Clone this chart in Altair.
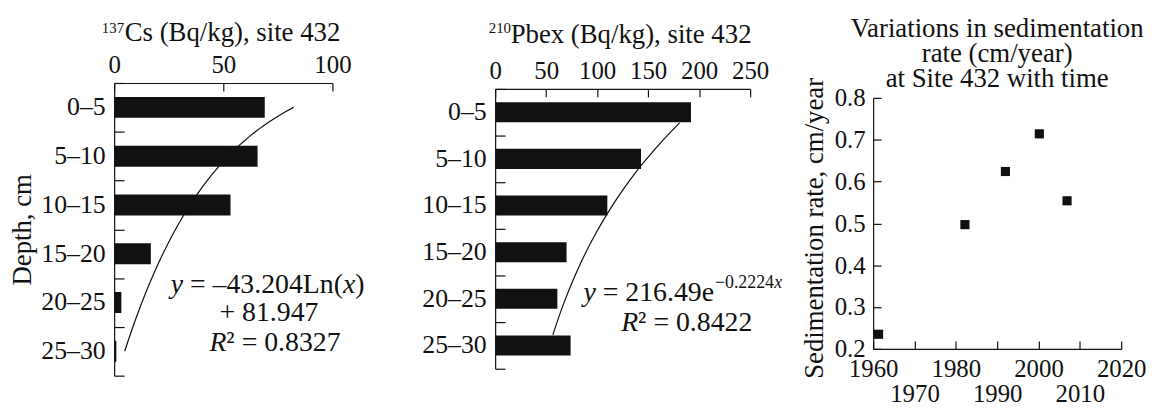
import altair as alt
import pandas as pd

# ---- data ----
depth = ["0–5", "5–10", "10–15", "15–20", "20–25", "25–30"]
cs137 = [69.0, 65.7, 53.3, 16.8, 3.3, 1.0]
pb210 = [192, 143, 110, 70, 61, 74]
years = [1961.3, 1982.2, 1992.0, 2000.2, 2006.9]
rates = [0.235, 0.497, 0.624, 0.714, 0.554]

cs_ticks = [0, 50, 100]
pb_ticks = [0, 50, 100, 150, 200, 250]
year_ticks = [1960, 1970, 1980, 1990, 2000, 2010, 2020]
rate_ticks = [0.2, 0.3, 0.4, 0.5, 0.6, 0.7, 0.8]

title_cs = "Cs (Bq/kg), site 432"
title_pb = "Pbex (Bq/kg), site 432"
title_rate = ["Variations in sedimentation", "rate (cm/year)", "at Site 432 with time"]

FONT = "Liberation Serif"
INK = "#111111"
AF = 28  # annotation font size
LF = 25  # tick label font size

W1, H1 = 220, 295
W2, H2 = 257, 282
W3, H3 = 250, 253

AX = dict(labelFont=FONT, labelColor=INK, titleFont=FONT,
          titleFontSize=27, titleColor=INK, titleFontWeight="normal",
          domainColor=INK, tickColor=INK, domainWidth=1.2, tickWidth=1.2, grid=False)


def txt(s, x, y, size=AF, italic=False, align="left"):
    return alt.Chart(alt.Data(values=[{}])).mark_text(
        text=s, font=FONT, fontSize=size, fontStyle="italic" if italic else "normal",
        align=align, baseline="alphabetic", color=INK
    ).encode(x=alt.value(x), y=alt.value(y))


def depth_panel(values, ftitle, title_x, title_y, ticks, xmax, W, H, ydom, method, ytitle, texts):
    df = pd.DataFrame({"depth": depth, "v": values})
    base = alt.Chart(df).transform_window(idx="row_number()")
    xs = alt.Scale(domain=[0, xmax], nice=False, zero=True)
    yb = alt.Scale(paddingInner=0, paddingOuter=0)
    yaxis_kw = dict(AX, ticks=False, labelPadding=9, titlePadding=4, labelFontSize=26)
    yaxis_kw["title"] = ytitle if ytitle else None
    bars = base.mark_bar(color=INK, height={"band": 0.43}).encode(
        x=alt.X("v:Q", scale=xs, axis=alt.Axis(orient="top", values=ticks, title=ftitle,
                                               titleX=title_x, titleY=title_y,
                                               titleBaseline="alphabetic", titleAlign="center",
                                               ticks=False, labelFlush=False, labelPadding=6,
                                               labelFontSize=LF, **AX)),
        y=alt.Y("depth:N", sort=depth, scale=yb, axis=alt.Axis(**yaxis_kw)),
    )
    ghost = base.mark_bar(opacity=0, height={"band": 0.43}).encode(
        x=alt.X("v:Q", scale=xs, axis=alt.Axis(orient="bottom", offset=-H, values=ticks,
                                               labels=False, domain=False, tickSize=8,
                                               title=None, **AX)),
        y=alt.Y("depth:N", sort=depth, scale=yb,
                axis=alt.Axis(orient="right", offset=-W, labels=False, domain=False,
                              tickSize=10, tickBand="extent", title=None, **AX)),
    )
    curve = base.transform_regression("idx", "v", method=method).mark_line(
        color=INK, strokeWidth=1.2
    ).encode(
        x=alt.X("v:Q", scale=xs, axis=None),
        y=alt.Y("idx:Q", scale=alt.Scale(domain=ydom, reverse=True, nice=False, zero=False), axis=None),
        order="idx:Q",
    )
    return alt.layer(bars, ghost, curve, *texts).resolve_scale(y="independent").resolve_axis(
        x="independent", y="independent").properties(width=W, height=H)


texts1 = [
    txt("137", 10, -50, size=15, align="right"),
    txt("y", 57, 212, italic=True),
    txt("= –43.204Ln(", 76.4, 212),
    txt("x", 230.6, 212, italic=True),
    txt(")", 243.0, 212),
    txt("+ 81.947", 156, 240, align="center"),
    txt("R", 96, 270, italic=True),
    txt("² = 0.8327", 113.1, 270),
]
texts2 = [
    txt("210", 16, -56, size=15, align="right"),
    txt("y", 89, 214, italic=True),
    txt("= 216.49e", 108.4, 214),
    txt("−0.2224", 221.5, 201, size=18),
    txt("x", 281.2, 201, size=18, italic=True),
    txt("R", 127, 244, italic=True),
    txt("² = 0.8422", 144.1, 244),
]

p1 = depth_panel(cs137, title_cs, 118.8, -43, cs_ticks, 100, W1, H1, [0.5, 6.5], "log",
                 "Depth, cm", texts1)
p2 = depth_panel(pb210, title_pb, 136.5, -47, pb_ticks, 250, W2, H2, [0.2, 6.8], "exp",
                 None, texts2)

# ---- sedimentation rate panel ----
df3 = pd.DataFrame({"year": years, "rate": rates})
xs3 = alt.Scale(domain=[1960, 2020], nice=False, zero=False)
ys3 = alt.Scale(domain=[0.2, 0.8], nice=False, zero=False)
pts = alt.Chart(df3).mark_square(size=85, color=INK, opacity=1).encode(
    x=alt.X("year:Q", scale=xs3, axis=alt.Axis(
        values=year_ticks, ticks=False, format="d", title=None,
        labelExpr="datum.value % 20 == 0 ? datum.label : ['', datum.label]",
        labelLineHeight=25, labelOverlap=False, labelFlush=False, labelPadding=8,
        labelFontSize=LF, **AX)),
    y=alt.Y("rate:Q", scale=ys3, axis=alt.Axis(
        values=rate_ticks, ticks=False, format=".1f", title="Sedimentation rate, cm/year",
        titleY=131, labelPadding=8, titlePadding=6, labelFlush=False, labelFontSize=LF, **AX)),
)
ghost3 = alt.Chart(df3).mark_square(size=85, opacity=0).encode(
    x=alt.X("year:Q", scale=xs3, axis=alt.Axis(orient="top", offset=-H3, values=year_ticks,
                                              labels=False, domain=False, tickSize=8,
                                              title=None, **AX)),
    y=alt.Y("rate:Q", scale=ys3, axis=alt.Axis(orient="right", offset=-W3, values=rate_ticks,
                                              labels=False, domain=False, tickSize=8,
                                              title=None, **AX)),
)
p3 = alt.layer(pts, ghost3).resolve_axis(x="independent", y="independent").properties(
    width=W3, height=H3,
    title=alt.TitleParams(title_rate, font=FONT, fontSize=27, fontWeight="normal",
                          anchor="middle", frame="group", lineHeight=25.5, offset=-16, color=INK),
)


def spacer(W, h):
    return alt.Chart(alt.Data(values=[{"a": 0}])).mark_point(opacity=0).encode(
        x=alt.X("a:Q", axis=None), y=alt.Y("a:Q", axis=None)
    ).properties(width=W, height=h)


p2w = alt.vconcat(spacer(W2, 6), p2, spacing=0, bounds="flush")
p3w = alt.vconcat(spacer(W3, 15), p3, spacing=0, bounds="flush")

chart = alt.hconcat(alt.hconcat(p1, p2w, spacing=57), p3w, spacing=17).properties(
    padding={"left": 1, "top": 5, "right": 0, "bottom": 0}
).configure_view(stroke=None).configure_axis(
    labelFont=FONT, titleFont=FONT, labelFontSize=LF, titleFontSize=27,
    labelColor=INK, titleColor=INK, domainColor=INK, tickColor=INK,
    titleFontWeight="normal", domainWidth=1.2, tickWidth=1.2,
).configure_title(font=FONT, fontSize=27, fontWeight="normal", color=INK)

chart.save("out.html", embed_options={"renderer": "svg", "actions": False})
